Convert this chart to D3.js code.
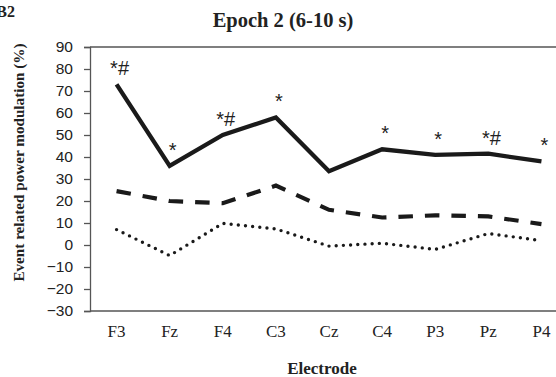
<!DOCTYPE html>
<html>
<head>
<meta charset="utf-8">
<script src="https://cdn.jsdelivr.net/npm/d3@7"></script>
<style>
  html, body { margin: 0; padding: 0; background: #fff; }
  svg { display: block; }
</style>
</head>
<body>
<div id="chart"></div>
<script>
// Electrodes along the x axis
const electrodes = ["F3", "Fz", "F4", "C3", "Cz", "C4", "P3", "Pz", "P4"];

// Event related power modulation (%) per electrode, one array per condition
const solidSeries  = [73, 36, 50, 58, 33.5, 43.5, 41, 41.5, 38];
const dashedSeries = [24.5, 20, 19, 27, 16, 12.5, 13.5, 13, 9.5];
const dottedSeries = [7, -4.8, 9.8, 7.3, -0.5, 0.8, -2, 5.2, 2];

// Significance marks drawn above the solid line
const markLabels = ["*#", "*", "*#", "*", "", "*", "*", "*#", "*"];

// Y axis ticks
const yTicks = [-30, -20, -10, 0, 10, 20, 30, 40, 50, 60, 70, 80, 90];

const W = 556, H = 377;
const plot = { left: 90, right: 568, top: 47, bottom: 311 };

const svg = d3.select("#chart").append("svg")
  .attr("width", W).attr("height", H);

const x = d3.scaleBand().domain(electrodes).range([plot.left, plot.right]);
const cx = d => x(d) + x.bandwidth() / 2;
const y = d3.scaleLinear().domain([-30, 90]).range([plot.bottom, plot.top]);

const axisColor = "#555";

// Top border line at the maximum value
svg.append("line")
  .attr("x1", plot.left).attr("x2", plot.right)
  .attr("y1", y(90)).attr("y2", y(90))
  .attr("stroke", axisColor).attr("stroke-width", 1.3);

// Bottom axis line (no ticks)
svg.append("line")
  .attr("x1", plot.left).attr("x2", plot.right)
  .attr("y1", y(-30)).attr("y2", y(-30))
  .attr("stroke", axisColor).attr("stroke-width", 1.3);

// Left axis
const yAxis = svg.append("g")
  .attr("transform", `translate(${plot.left},0)`)
  .call(d3.axisLeft(y).tickValues(yTicks).tickSize(6).tickPadding(11).tickFormat(d3.format("d")));
yAxis.select(".domain").attr("stroke", axisColor).attr("stroke-width", 1.3);
yAxis.selectAll(".tick line").attr("stroke", axisColor).attr("stroke-width", 1.3);
yAxis.selectAll(".tick text")
  .attr("fill", "#222")
  .style("font-family", "'Liberation Sans', Arial, sans-serif")
  .style("font-size", "15.5px");

// Category labels
svg.append("g").selectAll("text")
  .data(electrodes)
  .join("text")
  .attr("x", d => cx(d))
  .attr("y", 337)
  .attr("text-anchor", "middle")
  .attr("fill", "#222")
  .style("font-family", "'Liberation Serif', 'Times New Roman', serif")
  .style("font-size", "17px")
  .text(d => d);

// Lines
const line = d3.line()
  .x((d, i) => cx(electrodes[i]))
  .y(d => y(d));

svg.append("path")
  .datum(dottedSeries)
  .attr("d", line)
  .attr("fill", "none")
  .attr("stroke", "#1a1a1a")
  .attr("stroke-width", 3.4)
  .attr("stroke-linecap", "round")
  .attr("stroke-dasharray", "0 7.2");

svg.append("path")
  .datum(dashedSeries)
  .attr("d", line)
  .attr("fill", "none")
  .attr("stroke", "#1a1a1a")
  .attr("stroke-width", 4.2)
  .attr("stroke-dasharray", "14.5 12");

svg.append("path")
  .datum(solidSeries)
  .attr("d", line)
  .attr("fill", "none")
  .attr("stroke", "#1a1a1a")
  .attr("stroke-width", 4.3)
  .attr("stroke-linejoin", "miter");

// Significance marks
svg.append("g").selectAll("text")
  .data(electrodes.map((e, i) => ({ e, v: solidSeries[i], t: markLabels[i] })).filter(d => d.t))
  .join("text")
  .attr("x", d => cx(d.e) + 3)
  .attr("y", d => y(d.v) - 9)
  .attr("text-anchor", "middle")
  .attr("fill", "#222")
  .style("font-family", "'Liberation Sans', Arial, sans-serif")
  .style("font-size", "20px")
  .text(d => d.t);

// Titles
svg.append("text")
  .attr("x", 283).attr("y", 27)
  .attr("text-anchor", "middle")
  .attr("fill", "#222")
  .style("font-family", "'Liberation Serif', 'Times New Roman', serif")
  .style("font-weight", "bold")
  .style("font-size", "20.5px")
  .text("Epoch 2 (6-10 s)");

// Panel label
svg.append("text")
  .attr("x", 15).attr("y", 17)
  .attr("text-anchor", "end")
  .attr("fill", "#222")
  .style("font-family", "'Liberation Serif', 'Times New Roman', serif")
  .style("font-weight", "bold")
  .style("font-size", "16px")
  .text("B2");

svg.append("text")
  .attr("transform", "translate(24,162.5) rotate(-90)")
  .attr("text-anchor", "middle")
  .attr("fill", "#222")
  .style("font-family", "'Liberation Serif', 'Times New Roman', serif")
  .style("font-weight", "bold")
  .style("font-size", "15.2px")
  .text("Event related power modulation (%)");

svg.append("text")
  .attr("x", 322).attr("y", 373.5)
  .attr("text-anchor", "middle")
  .attr("fill", "#222")
  .style("font-family", "'Liberation Serif', 'Times New Roman', serif")
  .style("font-weight", "bold")
  .style("font-size", "17px")
  .text("Electrode");
</script>
</body>
</html>
